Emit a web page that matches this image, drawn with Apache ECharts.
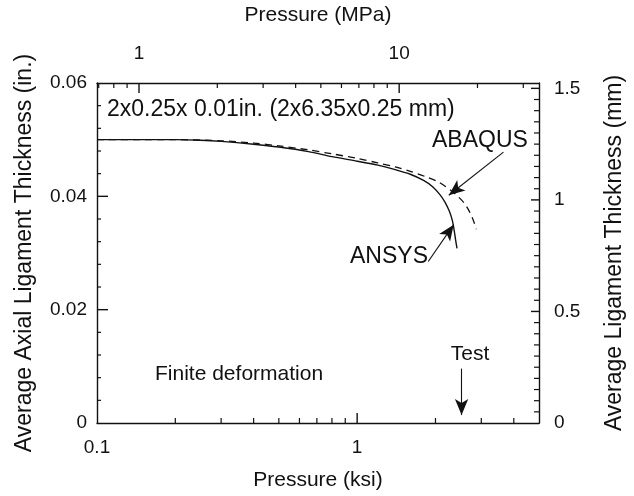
<!DOCTYPE html>
<html>
<head>
<meta charset="utf-8">
<script src="https://cdn.jsdelivr.net/npm/echarts@6/dist/echarts.min.js"></script>
<style>
  html, body { margin: 0; padding: 0; background: #fff; }
  #chart { width: 634px; height: 496px; }
</style>
</head>
<body>
<div id="chart"></div>
<script>
// Pressure (ksi) and average axial ligament thickness (in.) from the two FE codes
const ansysPressure = [0.1, 0.15, 0.2, 0.25, 0.3, 0.4, 0.5, 0.65, 0.8, 1.0, 1.2, 1.4, 1.6, 1.8, 1.95, 2.08, 2.18, 2.26, 2.32, 2.36, 2.39, 2.42];
const ansysThickness = [0.0500, 0.0500, 0.0500, 0.0499, 0.0497, 0.0492, 0.0487, 0.0479, 0.0470, 0.0462, 0.0455, 0.0447, 0.0439, 0.0428, 0.0417, 0.0403, 0.0389, 0.0374, 0.0358, 0.0340, 0.0323, 0.0308];

const abaqusPressure = [0.1, 0.2, 0.3, 0.4, 0.5, 0.65, 0.8, 1.0, 1.2, 1.4, 1.6, 1.85, 2.06, 2.3, 2.45, 2.58, 2.68, 2.76, 2.82, 2.87];
const abaqusThickness = [0.0500, 0.0500, 0.0498, 0.0494, 0.0489, 0.0482, 0.0475, 0.0467, 0.0459, 0.0452, 0.0444, 0.0434, 0.0425, 0.0410, 0.0399, 0.0388, 0.0376, 0.0364, 0.0353, 0.0342];

// Failure pressure observed in the test (ksi)
const testPressure = 2.52;

// Tick labels
const ksiLabels = [0.1, 1];
const mpaLabels = [1, 10];
const mmLabels = [0, 0.5, 1, 1.5];

// Tick marks (drawn pointing into the frame)
const ksiMajor = [1];
const ksiMinor = [0.2, 0.3, 0.4, 0.5, 0.6, 0.7, 0.8, 0.9, 2, 3, 4];
const mpaMajor = [1, 10];
const mpaMinor = [0.7, 0.8, 0.9, 2, 3, 4, 5, 6, 7, 8, 9, 20, 30];
const inMajor = [0.02, 0.04];
const inMinor = [0.004, 0.008, 0.012, 0.016, 0.024, 0.028, 0.032, 0.036, 0.044, 0.048, 0.052, 0.056];
const mmMajor = [0.5, 1, 1.5];
const mmMinor = [0.05, 0.1, 0.15, 0.2, 0.25, 0.3, 0.35, 0.4, 0.45, 0.55, 0.6, 0.65, 0.7, 0.75, 0.8, 0.85, 0.9, 0.95,
                 1.05, 1.1, 1.15, 1.2, 1.25, 1.3, 1.35, 1.4, 1.45];

// Axis ranges and unit conversions
const KSI_MIN = 0.1, KSI_MAX = 5;
const IN_MIN = 0, IN_MAX = 0.06, IN_STEP = 0.02;
const KSI_TO_MPA = 6.894757;
const IN_TO_MM = 25.4;

const INK = '#111';
const FONT = '"Liberation Sans", Arial, Helvetica, sans-serif';

function pairs(xs, ys) { return xs.map((x, i) => [x, ys[i]]); }

// Frame ticks as line segments placed through the axis scales.
// Each item: [x (ksi), y (in.), side, isMajor]; side 0 bottom, 1 top, 2 left, 3 right
const SIDE_BOTTOM = 0, SIDE_TOP = 1, SIDE_LEFT = 2, SIDE_RIGHT = 3;
const tickItems = [].concat(
  ksiMajor.map(v => [v, IN_MIN, SIDE_BOTTOM, 1]),
  ksiMinor.map(v => [v, IN_MIN, SIDE_BOTTOM, 0]),
  mpaMajor.map(v => [v / KSI_TO_MPA, IN_MAX, SIDE_TOP, 1]),
  mpaMinor.map(v => [v / KSI_TO_MPA, IN_MAX, SIDE_TOP, 0]),
  inMajor.map(v => [KSI_MIN, v, SIDE_LEFT, 1]),
  inMinor.map(v => [KSI_MIN, v, SIDE_LEFT, 0]),
  mmMajor.map(v => [KSI_MAX, v / IN_TO_MM, SIDE_RIGHT, 1]),
  mmMinor.map(v => [KSI_MAX, v / IN_TO_MM, SIDE_RIGHT, 0])
);
const TICK_LEN = { major: [10, 10, 11, 8], minor: [5, 5, 4, 5] };
const TICK_DIR = [[0, -1], [0, 1], [1, 0], [-1, 0]];

function renderTick(params, api) {
  const p = api.coord([api.value(0), api.value(1)]);
  const side = api.value(2);
  const major = api.value(3) === 1;
  const len = major ? TICK_LEN.major[side] : TICK_LEN.minor[side];
  const d = TICK_DIR[side];
  return {
    type: 'line',
    silent: true,
    shape: { x1: p[0], y1: p[1], x2: p[0] + d[0] * len, y2: p[1] + d[1] * len },
    style: { stroke: INK, lineWidth: major ? 1.4 : 1.2, fill: null }
  };
}

const frameLine = { show: true, onZero: false, lineStyle: { color: INK, width: 1.4 } };
const noTick = { show: false };
const labelStyle = { color: INK, fontFamily: FONT, fontSize: 19 };
const nameStyle = size => ({ color: INK, fontFamily: FONT, fontSize: size });
const fmt = v => String(+(+v).toPrecision(3));

const chart = echarts.init(document.getElementById('chart'), null, { renderer: 'canvas' });

chart.setOption({
  animation: false,
  backgroundColor: '#fff',
  grid: { left: 97, right: 87, top: 83, bottom: 69, containLabel: false },
  xAxis: [
    {
      type: 'log', logBase: 10, position: 'bottom', min: KSI_MIN, max: KSI_MAX,
      splitLine: { show: false },
      axisLine: frameLine, axisTick: noTick,
      axisLabel: { show: true, margin: 15, customValues: ksiLabels, formatter: fmt, ...labelStyle },
      name: 'Pressure (ksi)', nameLocation: 'middle', nameGap: 47, nameTextStyle: nameStyle(21)
    },
    {
      type: 'log', logBase: 10, position: 'top', min: KSI_MIN * KSI_TO_MPA, max: KSI_MAX * KSI_TO_MPA,
      splitLine: { show: false },
      axisLine: frameLine, axisTick: noTick,
      axisLabel: { show: true, margin: 20, customValues: mpaLabels, formatter: fmt, ...labelStyle },
      name: 'Pressure (MPa)', nameLocation: 'middle', nameGap: 57, nameTextStyle: nameStyle(21)
    }
  ],
  yAxis: [
    {
      type: 'value', position: 'left', min: IN_MIN, max: IN_MAX, interval: IN_STEP,
      splitLine: { show: false },
      axisLine: frameLine, axisTick: noTick,
      axisLabel: { show: true, margin: 10, formatter: v => String(+(+v).toFixed(3)), ...labelStyle },
      name: 'Average Axial Ligament Thickness (in.)', nameLocation: 'middle', nameGap: 61, nameTextStyle: nameStyle(23)
    },
    {
      type: 'value', position: 'right', min: IN_MIN * IN_TO_MM, max: IN_MAX * IN_TO_MM,
      splitLine: { show: false },
      axisLine: frameLine, axisTick: noTick,
      axisLabel: { show: true, margin: 15, customValues: mmLabels, formatter: v => String(+(+v).toFixed(2)), ...labelStyle },
      name: 'Average Ligament Thickness (mm)', nameLocation: 'middle', nameGap: 64, nameTextStyle: nameStyle(23)
    }
  ],
  series: [
    {
      name: 'ticks', type: 'custom', xAxisIndex: 0, yAxisIndex: 0,
      coordinateSystem: 'cartesian2d', clip: false, silent: true, z: 10,
      renderItem: renderTick,
      dimensions: ['x', 'y', 'side', 'major'],
      encode: { x: 0, y: 1 },
      data: tickItems
    },
    {
      name: 'ABAQUS', type: 'line', xAxisIndex: 0, yAxisIndex: 0,
      data: pairs(abaqusPressure, abaqusThickness),
      showSymbol: false, smooth: 0.3,
      lineStyle: { color: INK, width: 1.3, type: [7, 5] },
      markLine: {
        silent: true, animation: false,
        symbol: ['none', 'arrow'], symbolSize: [10, 16],
        label: { show: false },
        lineStyle: { color: INK, width: 1.1, type: 'solid' },
        data: [
          [{ coord: [3.65, 0.0478] }, { coord: [2.25, 0.0402] }],
          [{ coord: [testPressure, 0.0096] }, { coord: [testPressure, 0.0014] }]
        ]
      }
    },
    {
      name: 'ANSYS', type: 'line', xAxisIndex: 0, yAxisIndex: 0,
      data: pairs(ansysPressure, ansysThickness),
      showSymbol: false, smooth: 0.3,
      lineStyle: { color: INK, width: 1.4, type: 'solid' },
      markLine: {
        silent: true, animation: false,
        symbol: ['none', 'arrow'], symbolSize: [10, 16],
        label: { show: false },
        lineStyle: { color: INK, width: 1.1, type: 'solid' },
        data: [
          [{ coord: [1.876, 0.0285] }, { coord: [2.35, 0.0350] }]
        ]
      }
    }
  ],
  graphic: [
    { type: 'text', x: 107, y: 110, style: { text: '2x0.25x 0.01in. (2x6.35x0.25 mm)', font: '23px ' + FONT, fill: INK, align: 'left', verticalAlign: 'middle', textAlign: 'left', textVerticalAlign: 'middle' } },
    { type: 'text', x: 432, y: 141, style: { text: 'ABAQUS', font: '23px ' + FONT, fill: INK, align: 'left', verticalAlign: 'middle', textAlign: 'left', textVerticalAlign: 'middle' } },
    { type: 'text', x: 428, y: 257, style: { text: 'ANSYS', font: '23px ' + FONT, fill: INK, align: 'right', verticalAlign: 'middle', textAlign: 'right', textVerticalAlign: 'middle' } },
    { type: 'text', x: 470, y: 354, style: { text: 'Test', font: '21px ' + FONT, fill: INK, align: 'center', verticalAlign: 'middle', textAlign: 'center', textVerticalAlign: 'middle' } },
    { type: 'text', x: 155, y: 374, style: { text: 'Finite deformation', font: '21px ' + FONT, fill: INK, align: 'left', verticalAlign: 'middle', textAlign: 'left', textVerticalAlign: 'middle' } }
  ]
});
</script>
</body>
</html>
